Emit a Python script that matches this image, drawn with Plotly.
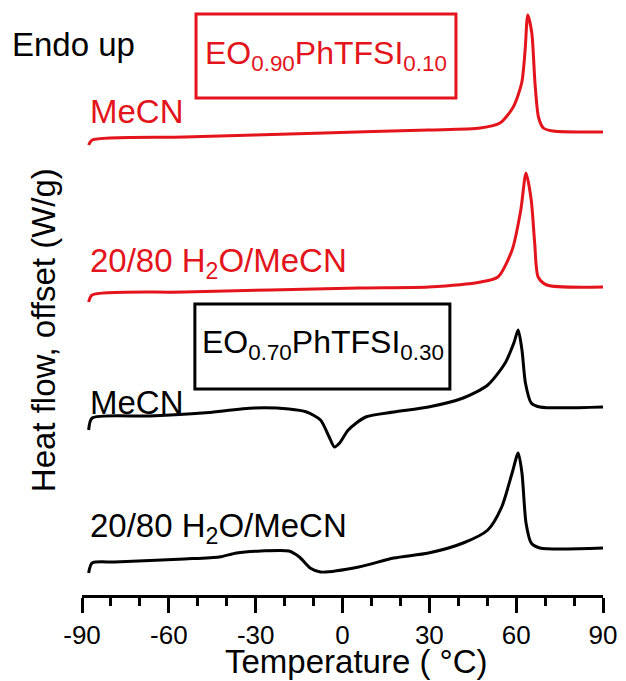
import plotly.graph_objects as go

# DSC traces: temperature (°C) and heat flow (W/g) with vertical offsets applied
t_red_mecn = [-87.7, -86.5, -54.6, -6.4, 29.7, 47.6, 54.4, 59.0, 61.9, 63.1, 64.0,
              65.4, 66.5, 67.7, 69.4, 72.7, 90.0]
hf_red_mecn = [4.52, 4.57, 4.60, 4.64, 4.67, 4.69, 4.74, 4.90, 5.14, 5.47, 5.82,
               5.64, 5.14, 4.80, 4.69, 4.66, 4.65]

t_red_h2o = [-87.7, -86.5, -54.6, 5.6, 29.7, 47.8, 53.7, 58.6, 61.6, 63.4,
             65.2, 66.4, 67.6, 70.6, 90.0]
hf_red_h2o = [2.95, 3.02, 3.05, 3.09, 3.10, 3.15, 3.20, 3.47, 3.87, 4.24,
              3.97, 3.54, 3.20, 3.12, 3.10]

t_blk_mecn = [-87.7, -86.5, -66.6, -48.5, -30.5, -18.5, -12.4, -7.6, -4.6, -2.8,
              -1.0, 2.0, 8.0, 17.7, 29.7, 41.7, 50.2, 56.2, 59.2, 60.7,
              62.0, 63.2, 65.2, 68.2, 90.0]
hf_blk_mecn = [1.67, 1.79, 1.81, 1.84, 1.89, 1.88, 1.85, 1.77, 1.60, 1.50,
               1.54, 1.67, 1.80, 1.85, 1.90, 1.99, 2.12, 2.34, 2.54, 2.67,
               2.47, 2.14, 1.94, 1.90, 1.90]

t_blk_h2o = [-87.7, -86.5, -78.7, -54.6, -42.6, -36.6, -28.1, -18.5, -14.9, -11.2,
             -7.6, 5.6, 17.7, 29.7, 41.7, 50.2, 55.0, 58.6, 60.7, 62.0,
             63.4, 65.2, 68.2, 90.0]
hf_blk_h2o = [0.24, 0.34, 0.35, 0.38, 0.40, 0.44, 0.46, 0.46, 0.40, 0.29,
              0.25, 0.30, 0.39, 0.44, 0.54, 0.67, 0.90, 1.24, 1.44, 1.24,
              0.74, 0.54, 0.49, 0.49]

x_ticks = [-90, -60, -30, 0, 30, 60, 90]
x_ticklabels = ["-90", "-60", "-30", "0", "30", "60", "90"]

RED = "#E3141B"
BLACK = "#000000"
FONT = "Liberation Sans, Arial, sans-serif"

fig = go.Figure()
for t, hf, col in [(t_red_mecn, hf_red_mecn, RED),
                   (t_red_h2o, hf_red_h2o, RED),
                   (t_blk_mecn, hf_blk_mecn, BLACK),
                   (t_blk_h2o, hf_blk_h2o, BLACK)]:
    fig.add_trace(go.Scatter(x=t, y=hf, mode="lines",
                             line=dict(color=col, width=3, shape="spline", smoothing=0.7),
                             showlegend=False, hoverinfo="skip"))

# Sample composition boxes
fig.add_shape(type="rect", xref="x", yref="y", x0=-50.6, x1=39.2, y0=4.99, y1=5.83,
              line=dict(color=RED, width=3))
fig.add_shape(type="rect", xref="x", yref="y", x0=-51.0, x1=37.1, y0=2.08, y1=2.93,
              line=dict(color=BLACK, width=3))

def label(text, x, y, color, size=33, xanchor="left", ref="data"):
    r = ("x", "y") if ref == "data" else ("paper", "paper")
    fig.add_annotation(text=text, x=x, y=y, xref=r[0], yref=r[1], showarrow=False,
                       xanchor=xanchor, yanchor="middle",
                       font=dict(family=FONT, size=size, color=color))

label("Endo up", -0.138, 0.925, BLACK, ref="paper")
label("MeCN", -87.9, 4.86, RED)
label("20/80 H<sub>2</sub>O/MeCN", -87.9, 3.34, RED)
label("MeCN", -87.9, 1.95, BLACK)
label("20/80 H<sub>2</sub>O/MeCN", -87.9, 0.695, BLACK)
label("EO<sub>0.90</sub>PhTFSI<sub>0.10</sub>", -5.7, 5.42, RED, size=32, xanchor="center")
label("EO<sub>0.70</sub>PhTFSI<sub>0.30</sub>", -6.9, 2.53, BLACK, size=32, xanchor="center")

# Axis titles
fig.add_annotation(text="Temperature ( °C)", xref="paper", yref="paper", x=0.526, y=-0.111,
                   showarrow=False, xanchor="center", yanchor="middle",
                   font=dict(family=FONT, size=33, color=BLACK))
fig.add_annotation(text="Heat flow, offset (W/g)", xref="paper", yref="paper", x=-0.0749, y=0.445,
                   showarrow=False, xanchor="center", yanchor="middle", textangle=-90,
                   font=dict(family=FONT, size=33, color=BLACK))

fig.update_layout(
    width=626, height=681,
    margin=dict(l=82, r=23, t=0, b=86),
    paper_bgcolor="white", plot_bgcolor="white",
    xaxis=dict(range=[-90, 90], tickmode="array", tickvals=x_ticks, ticktext=x_ticklabels,
               showline=True, linewidth=3, linecolor=BLACK, mirror=False,
               ticks="outside", ticklen=15, tickwidth=3, tickcolor=BLACK,
               showgrid=False, zeroline=False,
               tickfont=dict(family=FONT, size=26, color=BLACK),
               minor=dict(dtick=10, tick0=-90, ticks="outside", ticklen=8, tickwidth=3,
                          tickcolor=BLACK, showgrid=False)),
    yaxis=dict(range=[0.02, 5.97], visible=False, showgrid=False, zeroline=False),
)

fig.write_html("out.html")
